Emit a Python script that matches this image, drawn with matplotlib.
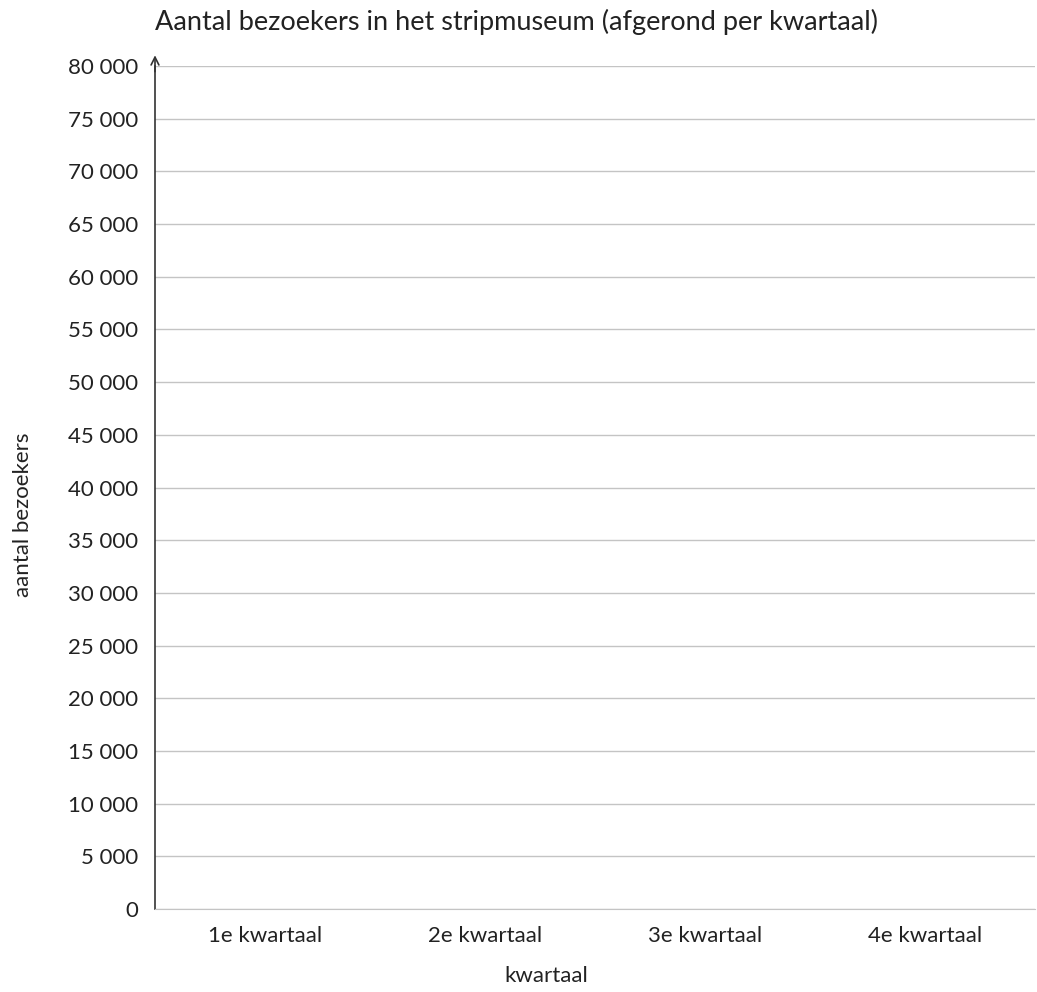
import matplotlib.pyplot as plt

plt.rcParams['font.family'] = ['Lato', 'DejaVu Sans']

kwartalen = ['1e kwartaal', '2e kwartaal', '3e kwartaal', '4e kwartaal']
y_ticks = list(range(0, 80001, 5000))
y_labels = [f'{v:,}'.replace(',', ' ') for v in y_ticks]

fig = plt.figure(figsize=(10.37, 9.92), dpi=100)
ax = fig.add_axes([155 / 1037, 83 / 992, 880 / 1037, 843 / 992])

ax.set_xlim(-0.5, len(kwartalen) - 0.5)
ax.set_ylim(0, 80000)
ax.set_xticks(range(len(kwartalen)))
ax.set_xticklabels(kwartalen, fontsize=16, color='#222222')
ax.set_yticks(y_ticks)
ax.set_yticklabels(y_labels, fontsize=16, color='#222222')
ax.tick_params(length=0, pad=12)
ax.tick_params(axis='x', pad=12)

ax.grid(axis='y', color='#c4c4c4', linewidth=1)
ax.set_axisbelow(True)
for s in ['top', 'right']:
    ax.spines[s].set_visible(False)
ax.spines['bottom'].set_color('#c4c4c4')
ax.spines['left'].set_color('#333333')
ax.spines['left'].set_linewidth(1.2)

# pijl bovenaan de y-as
ax.annotate('', xy=(0, 1.016), xytext=(0, 0.99), xycoords='axes fraction',
            arrowprops=dict(arrowstyle='->', color='#333333', lw=1.2,
                            mutation_scale=14), annotation_clip=False)

ax.set_xlabel('kwartaal', fontsize=16, color='#222222')
ax.xaxis.set_label_coords((546 - 155) / 880, -(966 - 909) / 843)
ax.set_ylabel('aantal bezoekers', fontsize=16, color='#222222')
ax.yaxis.set_label_coords(-(155 - 33) / 880, (909 - 515) / 843)
fig.text(155 / 1037, 1 - 22 / 992, 'Aantal bezoekers in het stripmuseum (afgerond per kwartaal)',
         fontsize=19.5, color='#222222', ha='left', va='center')

plt.savefig('out.png', dpi=100)
